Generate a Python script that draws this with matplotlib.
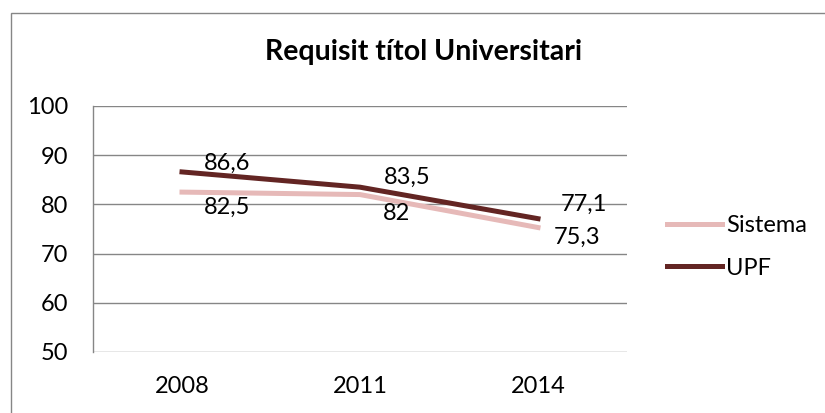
import matplotlib.pyplot as plt
from matplotlib.patches import Rectangle

plt.rcParams['font.family'] = ['Lato', 'DejaVu Sans']

# data
years = ["2008", "2011", "2014"]
sistema = [82.5, 82.0, 75.3]
upf = [86.6, 83.5, 77.1]
sistema_labels = ["82,5", "82", "75,3"]
upf_labels = ["86,6", "83,5", "77,1"]

W, H = 825, 413
fig = plt.figure(figsize=(W / 100, H / 100), dpi=100)

# outer chart frame (right and bottom edges fall outside the picture)
fig.patches.append(Rectangle((11 / W, -0.1), 1.2, 1 - 13 / H + 0.1, transform=fig.transFigure,
                             fill=False, edgecolor="#868686", linewidth=1.0))

ax = fig.add_axes([93 / W, 1 - 352 / H, 534 / W, 246 / H])
x = list(range(len(years)))

ax.plot(x, sistema, color="#E6B9B8", linewidth=3.6, label="Sistema")
ax.plot(x, upf, color="#632523", linewidth=3.6, label="UPF")

# data labels, offset to the right of each point as in the Excel original
upf_off = [(45, 9), (47, 10), (46, 14)]
sis_off = [(45, -15), (37, -19), (39, -10)]
for xi, v, t, off in zip(x, upf, upf_labels, upf_off):
    ax.annotate(t, (xi, v), xytext=off, textcoords="offset pixels",
                ha="center", va="center", fontsize=17)
for xi, v, t, off in zip(x, sistema, sistema_labels, sis_off):
    ax.annotate(t, (xi, v), xytext=off, textcoords="offset pixels",
                ha="center", va="center", fontsize=17)

ax.set_xlim(-0.5, 2.5)
ax.set_ylim(50, 100)
ax.set_yticks(range(50, 101, 10))
ax.set_xticks(x)
ax.set_xticklabels(years)
ax.tick_params(length=0, labelsize=17)
ax.tick_params(axis="x", pad=17)
ax.tick_params(axis="y", pad=18)
ax.grid(axis="y", color="#868686", linewidth=1.0)
ax.set_axisbelow(True)
for s in ["top", "right", "bottom"]:
    ax.spines[s].set_visible(False)
ax.spines["left"].set_color("#868686")
ax.spines["left"].set_linewidth(1.0)

fig.text(424 / W, 1 - 52 / H, "Requisit títol Universitari", ha="center", va="center",
         fontsize=20.5, fontweight="bold")

fig.legend(loc="center left", bbox_to_anchor=(667 / W, 1 - 247 / H), frameon=False,
           fontsize=17, handlelength=2.35, handletextpad=0.15, labelspacing=0.9,
           borderpad=0, borderaxespad=0)

fig.savefig("out.png", dpi=100)
